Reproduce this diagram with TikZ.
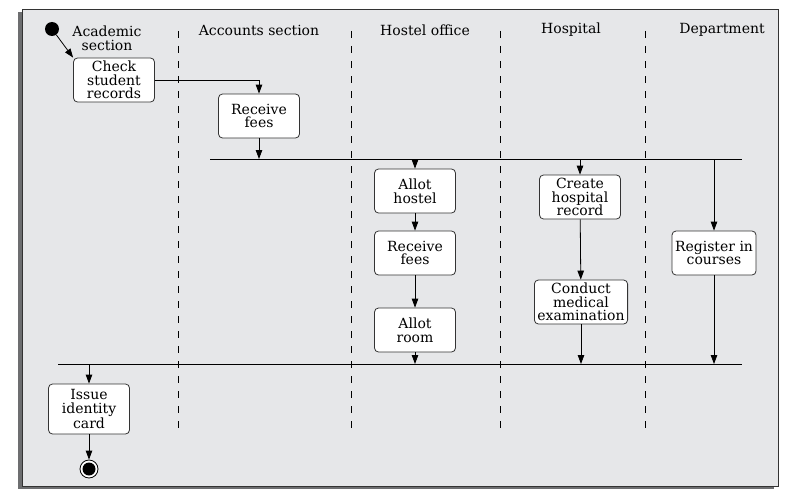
\documentclass[tikz,border=0pt]{standalone}
\usepackage{fontspec}
\setmainfont{DejaVu Serif}
\usetikzlibrary{arrows.meta}
\definecolor{Panel}{HTML}{E6E7E9}
\definecolor{Shade}{HTML}{6D6E70}
\definecolor{Rule}{HTML}{333333}

\begin{document}
\begin{tikzpicture}[x=1pt,y=-1pt,every node/.style={font=\fontsize{14}{13.6}\selectfont},activity/.style={draw=Rule,fill=white,rounded corners=4pt,align=center,minimum width=81pt,minimum height=44pt,inner xsep=3pt,inner ysep=1pt,line width=0.8pt},lane/.style={draw=black,dash pattern=on 7pt off 8pt,line width=0.7pt},bar/.style={draw=black,line width=0.8pt},flow/.style={draw=black,line width=0.8pt,-{Triangle[length=9pt,width=6.5pt]}},start/.style={circle,fill=black,inner sep=0pt,minimum size=14pt},stop/.style={circle,draw=black,fill=white,line width=0.8pt,inner sep=0pt,minimum size=18pt,path picture={\fill[black] (path picture bounding box.center) circle (6.5pt);}}]
\useasboundingbox (0,0) rectangle (802,503);
\fill[Shade] (18,12) rectangle (774,489);
\filldraw[fill=Panel,draw=Rule,line width=0.6pt] (22,9) rectangle (778,486);

% swim lanes
\foreach \x in {178,351,500,645} \draw[lane] (\x,31)--(\x,430);
\node[align=center] (academic) at (107,38){Academic\\section};\node (accounts) at (259,30){Accounts section};\node (hostel) at (425,30){Hostel office};\node (hospital) at (571,30){Hospital};\node (department) at (722,30){Department};

% synchronisation bars
\coordinate (forkL) at (210,159);\coordinate (forkR) at (742,159);\coordinate (joinL) at (58,364);\coordinate (joinR) at (742,364);
\draw[bar] (forkL)--(forkR);\draw[bar] (joinL)--(joinR);

% activities
\node[start] (init) at (52,29){};
\node[activity] (check) at (114,80){Check\\student\\records};\node[activity] (fees) at (259,116){Receive\\fees};
\node[activity] (hostelbox) at (415,191){Allot\\hostel};\node[activity] (hostelfees) at (415,253){Receive\\fees};\node[activity] (room) at (415,330){Allot\\room};
\node[activity] (record) at (580,197){Create\\hospital\\record};\node[activity] (exam) at (581,302){Conduct\\medical\\examination};
\node[activity] (courses) at (714,253){Register in\\courses};
\node[activity,minimum height=50pt] (card) at (89,409){Issue\\identity\\card};\node[stop] (final) at (89,469){};

% flows
\draw[flow] (init)--(check.north west);\draw[flow] (check.east)-|(fees.north);\draw[flow] (fees.south)--(fees.south|-forkL);
\draw[flow] (hostelbox.north|-forkL)--(hostelbox.north);\draw[flow] (record.north|-forkL)--(record.north);\draw[flow] (courses.north|-forkL)--(courses.north);
\draw[flow] (hostelbox)--(hostelfees);\draw[flow] (hostelfees)--(room);\draw[flow] (record)--(exam);
\draw[flow] (room.south)--(room.south|-joinL);\draw[flow] (exam.south)--(exam.south|-joinL);\draw[flow] (courses.south)--(courses.south|-joinL);
\draw[flow] (card.north|-joinL)--(card.north);\draw[flow] (card)--(final);
\end{tikzpicture}
\end{document}
